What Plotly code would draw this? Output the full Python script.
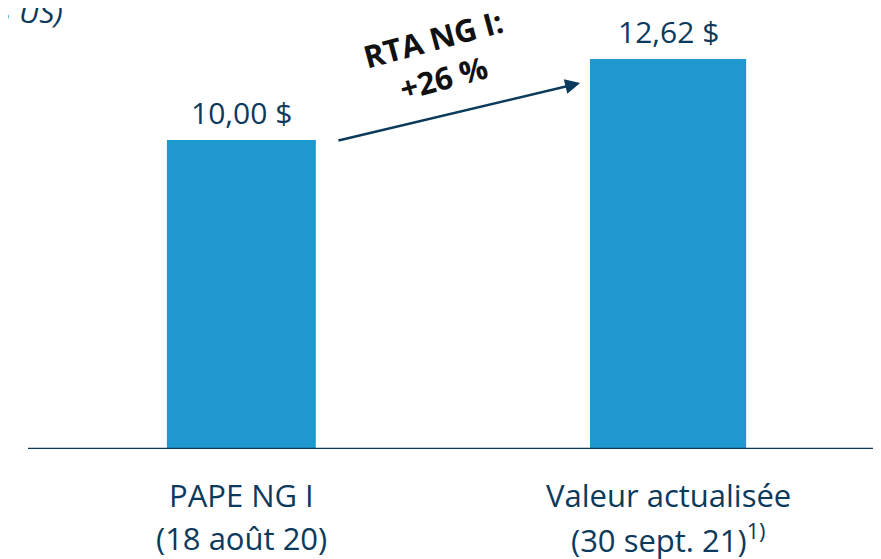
import plotly.graph_objects as go

cat_line1 = ["PAPE NG I", "Valeur actualisée"]
cat_line2 = ["(18 août 20)", "(30 sept. 21)<sup>1)</sup>"]
values = [10.00, 12.62]
value_labels = ["10,00 $", "12,62 $"]
unit_label = "(en $ US)"
growth_label = "RTA NG I:<br>+26 %"

BAR = "#1E98CF"
NAVY = "#0B3A5C"
FONT = "Open Sans"
# page body has an 8px margin; figure is sized/offset accordingly
W, H = 873, 551
ML, MR, MT, MB = 20, 6, 0, 110
PW, PH = W - ML - MR, H - MT - MB

fig = go.Figure()
fig.add_trace(go.Bar(
    x=[0, 1], y=values, width=[0.349, 0.366],
    marker=dict(color=BAR, line=dict(width=0)),
    hoverinfo="skip",
))

for i, (v, lab) in enumerate(zip(values, value_labels)):
    fig.add_annotation(x=i, y=v, xref="x", yref="y", text=lab, showarrow=False,
                       yanchor="bottom", yshift=5,
                       font=dict(family=FONT, size=30, color=NAVY))

for i, (l1, l2) in enumerate(zip(cat_line1, cat_line2)):
    fig.add_annotation(x=i, y=0, xref="x", yref="paper", text=l1, showarrow=False,
                       yanchor="middle", yshift=-46,
                       font=dict(family=FONT, size=31, color=NAVY))
    fig.add_annotation(x=i, y=0, xref="x", yref="paper", text=l2, showarrow=False,
                       yanchor="middle", yshift=-89,
                       font=dict(family=FONT, size=31, color=NAVY))

fig.update_layout(
    width=W, height=H,
    margin=dict(l=ML, r=MR, t=MT, b=MB, autoexpand=False),
    plot_bgcolor="white", paper_bgcolor="white",
    showlegend=False,
    xaxis=dict(range=[-0.5, 1.485], showticklabels=False,
               showgrid=False, zeroline=False, showline=False, ticks="",
               automargin=False),
    yaxis=dict(range=[0, 14.27], visible=False, automargin=False),
)

# baseline
fig.add_shape(type="line", xref="paper", yref="y", x0=0, x1=1, y0=0, y1=0,
              line=dict(color=NAVY, width=2.5))

# arrow
fig.add_annotation(x=0.794, y=11.84, ax=0.224, ay=9.97, xref="x", yref="y",
                   axref="x", ayref="y", showarrow=True, arrowhead=2,
                   arrowsize=1.2, arrowwidth=2.5, arrowcolor=NAVY, text="")
fig.add_annotation(x=0.461, y=12.65, xref="x", yref="y", text=growth_label,
                   showarrow=False, textangle=-15,
                   font=dict(family=FONT, size=31, color="#111111", weight="bold"))

# unit label (cut off at left and top edges)
fig.add_annotation(x=(57 - ML) / PW, y=1.0, xref="paper", yref="paper",
                   text=unit_label, showarrow=False, yshift=-3,
                   xanchor="right", yanchor="middle",
                   font=dict(family=FONT, size=30, color=NAVY, style="italic"))

fig.write_html("out.html")
